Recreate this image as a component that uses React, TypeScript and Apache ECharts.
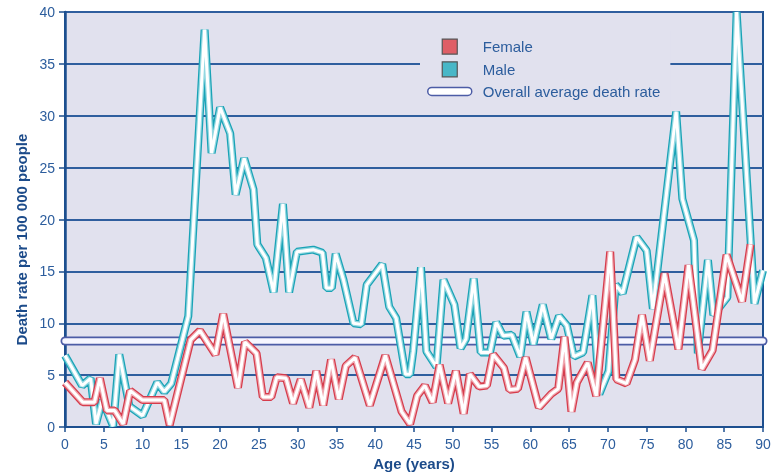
import React, { useEffect, useRef } from "react";
import * as echarts from "echarts";

// [age (years), death rate per 100 000 people]
const femaleData: [number, number][] = [
  [0, 4.3], [2.3, 2.4], [3.8, 2.4], [4.5, 4.7], [5.4, 1.6], [6.4, 1.6], [7.5, 0.3], [8.4, 3.5],
  [10.0, 2.6], [12.8, 2.6], [13.5, 0.2], [16.2, 8.4], [17.4, 9.3], [19.4, 7.0], [20.4, 10.9],
  [22.3, 3.8], [23.2, 8.2], [24.7, 7.1], [25.5, 2.9], [26.6, 2.9], [27.3, 4.8], [28.5, 4.7],
  [29.4, 2.3], [30.4, 4.6], [31.5, 1.9], [32.4, 5.4], [33.3, 2.1], [34.3, 6.5], [35.3, 2.7],
  [36.2, 5.9], [37.4, 6.7], [39.3, 2.1], [41.3, 6.9], [43.4, 1.5], [44.5, 0.3], [45.4, 3.0],
  [46.4, 4.0], [47.4, 2.4], [48.3, 6.0], [49.4, 2.3], [50.4, 5.4], [51.4, 1.3], [52.2, 5.1],
  [53.4, 3.9], [54.4, 4.0], [55.2, 7.0], [56.6, 5.7], [57.3, 3.6], [58.4, 3.7], [59.4, 6.7],
  [61.1, 1.9], [62.7, 3.2], [63.6, 3.7], [64.4, 8.7], [65.3, 1.5], [66.0, 4.3], [67.4, 6.2],
  [68.5, 3.0], [70.3, 16.9], [71.1, 4.6], [72.4, 4.2], [73.5, 6.5], [74.4, 10.8], [75.4, 6.4],
  [77.3, 14.8], [79.1, 7.5], [80.4, 15.6], [82.1, 5.6], [83.5, 7.4], [85.3, 16.6], [87.3, 12.1],
  [88.4, 17.6],
];

const maleData: [number, number][] = [
  [0, 6.9], [2.2, 4.0], [3.3, 4.7], [4.0, 0.3], [4.8, 2.6], [6.2, 0.1], [7.0, 7.0], [8.3, 2.0],
  [10.0, 1.1], [11.9, 4.3], [12.8, 3.4], [13.7, 4.2], [15.9, 10.7], [18.0, 38.3], [18.9, 26.4],
  [20.0, 30.8], [21.3, 28.3], [22.0, 22.4], [23.1, 25.9], [24.3, 22.9], [24.8, 17.6], [25.9, 16.3],
  [26.9, 13.0], [28.1, 21.5], [28.9, 13.0], [29.9, 16.9], [32.0, 17.1], [33.2, 16.8], [33.7, 13.4],
  [34.4, 13.4], [34.9, 16.7], [35.9, 14.2], [37.2, 10.0], [38.2, 9.9], [38.9, 13.7], [39.7, 14.5],
  [40.9, 15.7], [41.8, 11.6], [42.7, 10.5], [43.9, 5.1], [44.5, 5.1], [44.9, 7.3], [45.9, 15.4],
  [46.6, 7.3], [47.9, 5.8], [48.8, 14.2], [50.2, 11.8], [51.0, 7.6], [51.7, 8.5], [52.7, 14.3],
  [53.6, 7.2], [54.8, 7.2], [55.6, 10.1], [56.5, 8.8], [57.6, 8.9], [58.7, 6.8], [59.5, 11.1],
  [60.4, 8.0], [61.6, 11.8], [62.7, 8.5], [63.7, 10.7], [64.7, 9.8], [65.6, 6.8], [66.8, 7.2],
  [68.0, 12.7], [68.9, 3.2], [70.1, 5.4], [71.0, 13.7], [71.9, 12.9], [73.7, 18.3], [75.0, 17.0],
  [75.8, 11.4], [78.8, 30.4], [79.6, 22.0], [81.1, 18.0], [81.6, 7.1], [82.9, 16.1], [83.6, 10.8],
  [85.4, 12.5], [86.6, 40.0], [88.9, 11.9], [90.0, 15.1],
];

const averageRate = 8.3;
const ageRange = [0, 90];

const FONT = '"Liberation Sans", Arial, Helvetica, sans-serif';
const PLOT_BG = "#e1e1ee";
const AXIS_BLUE = "#1d4f8f";
const TEXT_BLUE = "#2c5d9d";

function layered(
  name: string,
  data: [number, number][],
  colors: string[],
  widths: number[],
  cap: "butt" | "round" = "butt"
) {
  return colors.map((c, i) => ({
    type: "line" as const,
    name: i === colors.length - 1 ? name : name + " layer " + i,
    data,
    symbol: "none",
    showSymbol: false,
    silent: true,
    clip: false,
    legendHoverLink: false,
    emphasis: { disabled: true },
    lineStyle: { color: c, width: widths[i], join: "bevel", cap },
  }));
}

export default function App() {
  const ref = useRef<HTMLDivElement>(null);
  useEffect(() => {
    const chart = echarts.init(ref.current!, null, { renderer: "svg" });
    const avgData: [number, number][] = ageRange.map((a) => [a, averageRate]);
    chart.setOption({
      animation: false,
      textStyle: { fontFamily: FONT },
      grid: {
        left: 65,
        right: 13,
        top: 12,
        bottom: 44,
        show: true,
        backgroundColor: PLOT_BG,
        borderColor: AXIS_BLUE,
        borderWidth: 2,
      },
      legend: {
        orient: "vertical",
        left: 420,
        top: 30.5,
        padding: [8, 10, 8, 7],
        itemWidth: 44,
        itemHeight: 15,
        itemGap: 6.5,
        backgroundColor: PLOT_BG,
        selectedMode: false,
        textStyle: { fontFamily: FONT, fontSize: 15, color: TEXT_BLUE, padding: [0, 0, 0, 6] },
        data: [
          {
            name: "Female",
            icon: "path://M0,0H15V15H0Z",
            itemStyle: { color: "#df5e66", borderColor: "#555555", borderWidth: 1.2 },
          },
          {
            name: "Male",
            icon: "path://M0,0H15V15H0Z",
            itemStyle: { color: "#48b7c7", borderColor: "#555555", borderWidth: 1.2 },
          },
          {
            name: "Overall average death rate",
            icon: "path://M4,0H40A4,4,0,0,1,40,8H4A4,4,0,0,1,4,0Z",
            itemStyle: { color: "#ffffff", borderColor: "#4c5ca6", borderWidth: 1.5 },
          },
        ],
      },
      xAxis: {
        type: "value",
        min: 0,
        max: 90,
        interval: 5,
        name: "Age (years)",
        nameLocation: "middle",
        nameGap: 26,
        nameTextStyle: { fontFamily: FONT, fontSize: 15, fontWeight: "bold", color: "#1c4b8a" },
        axisLine: { show: true, lineStyle: { color: AXIS_BLUE, width: 2 } },
        axisTick: { show: true, length: 5, lineStyle: { color: AXIS_BLUE, width: 1.5 } },
        axisLabel: { fontFamily: FONT, fontSize: 14, color: TEXT_BLUE, margin: 10 },
        splitLine: { show: false },
      },
      yAxis: {
        type: "value",
        min: 0,
        max: 40,
        interval: 5,
        name: "Death rate per 100 000 people",
        nameLocation: "middle",
        nameGap: 36,
        nameTextStyle: {
          fontFamily: FONT,
          fontSize: 15,
          fontWeight: "bold",
          color: "#1c4b8a",
          padding: [0, 40, 0, 0],
        },
        axisLine: { show: true, lineStyle: { color: AXIS_BLUE, width: 2.5 } },
        axisTick: { show: true, length: 6, lineStyle: { color: AXIS_BLUE, width: 1.5 } },
        axisLabel: { fontFamily: FONT, fontSize: 14, color: TEXT_BLUE, margin: 10 },
        splitLine: { show: true, lineStyle: { color: "#2f5e9e", width: 1.8 } },
      },
      series: [
        ...layered("Overall average death rate", avgData, ["#4c5ca6", "#f6f6ff"], [9, 5.5], "round"),
        ...layered("Male", maleData, ["#1aa3b6", "#93d8e1", "#ffffff"], [8, 5.5, 3]),
        ...layered("Female", femaleData, ["#d63c4c", "#f0a9b1", "#ffffff"], [8, 5.5, 3]),
      ],
    });
    return () => chart.dispose();
  }, []);
  return (
    <div
      ref={ref}
      style={{ position: "fixed", left: 0, top: 0, width: 776, height: 476 }}
    />
  );
}
